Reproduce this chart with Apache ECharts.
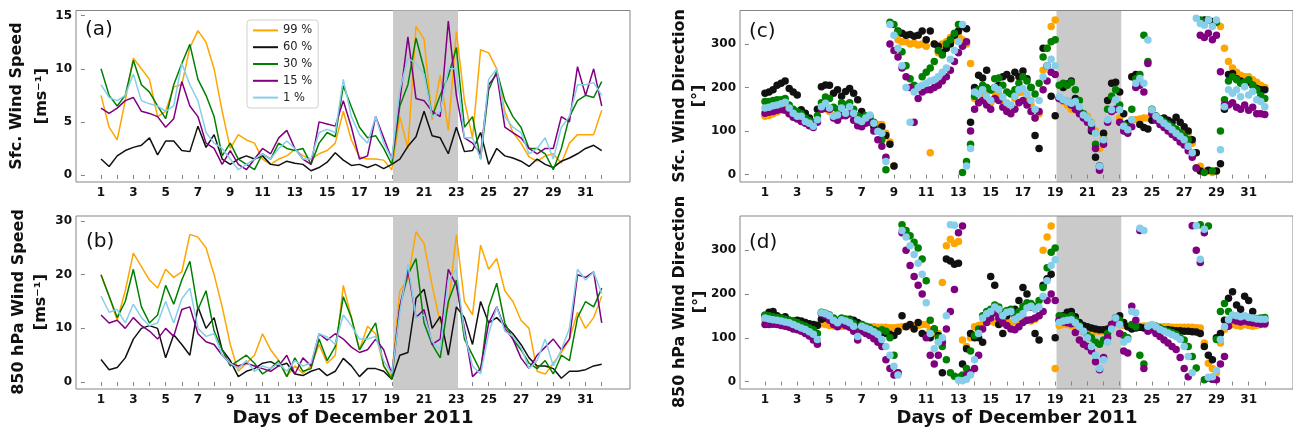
<!DOCTYPE html>
<html>
<head>
<meta charset="utf-8">
<script src="https://cdn.jsdelivr.net/npm/echarts@6/dist/echarts.min.js"></script>
<style>html,body{margin:0;padding:0;background:#fff}#chart{width:1293px;height:431px}</style>
</head>
<body>
<div id="chart"></div>
<script>
// ---------- axes / categories ----------
const daysHalf = [1,1.5,2,2.5,3,3.5,4,4.5,5,5.5,6,6.5,7,7.5,8,8.5,9,9.5,10,10.5,11,11.5,12,12.5,13,13.5,14,14.5,15,15.5,16,16.5,17,17.5,18,18.5,19,19.5,20,20.5,21,21.5,22,22.5,23,23.5,24,24.5,25,25.5,26,26.5,27,27.5,28,28.5,29,29.5,30,30.5,31,31.5,32];
const daysQuarter = [1,1.25,1.5,1.75,2,2.25,2.5,2.75,3,3.25,3.5,3.75,4,4.25,4.5,4.75,5,5.25,5.5,5.75,6,6.25,6.5,6.75,7,7.25,7.5,7.75,8,8.25,8.5,8.75,9,9.25,9.5,9.75,10,10.25,10.5,10.75,11,11.25,11.5,11.75,12,12.25,12.5,12.75,13,13.25,13.5,13.75,14,14.25,14.5,14.75,15,15.25,15.5,15.75,16,16.25,16.5,16.75,17,17.25,17.5,17.75,18,18.25,18.5,18.75,19,19.25,19.5,19.75,20,20.25,20.5,20.75,21,21.25,21.5,21.75,22,22.25,22.5,22.75,23,23.25,23.5,23.75,24,24.25,24.5,24.75,25,25.25,25.5,25.75,26,26.25,26.5,26.75,27,27.25,27.5,27.75,28,28.25,28.5,28.75,29,29.25,29.5,29.75,30,30.25,30.5,30.75,31,31.25,31.5,31.75,32];
const tickDays = [1,2,3,4,5,6,7,8,9,10,11,12,13,14,15,16,17,18,19,20,21,22,23,24,25,26,27,28,29,30,31,32];
const labelDays = [1,3,5,7,9,11,13,15,17,19,21,23,25,27,29,31];
const shadeDays = [19.08, 23.1];
const sfcSpeedTicks = [0,5,10,15];
const hpaSpeedTicks = [0,10,20,30];
const dirTicks = [0,100,200,300];
const seriesNames = ['99 %','60 %','30 %','15 %','1 %'];
const seriesColors = ['#FFA500','#111111','#008000','#800080','#87CEEB'];

// ---------- (a) surface wind speed [m/s], every 0.5 day ----------
const sfcSpeed99 = [7.5,4.5,3.3,7,11,10,9,5.5,6,8.3,8.5,12,13.6,12.5,10,6,2.5,3.8,3.3,3,1.5,1.0,1.5,1.8,2.4,1.8,1.5,2.0,2.3,3.0,6,3.3,1.7,1.5,1.5,1.4,0.5,5.5,2.5,14,12.8,5.2,9.4,4.2,13.5,7,3.5,11.8,11.5,10,6,4,3,1.7,1.3,1.8,2,1.1,3,3.8,3.8,3.8,6.1];
const sfcSpeed60 = [1.5,0.8,1.8,2.3,2.6,2.8,3.5,1.9,3.2,3.2,2.3,2.2,4.6,2.6,3.8,1.5,1.0,1.5,1.8,1.5,1.8,1.0,0.9,1.3,1.1,1.0,0.4,0.7,1.2,2.1,1.4,0.9,1.0,0.7,1.0,0.6,1.0,1.5,2.7,3.6,6.0,3.7,3.5,2.0,4.5,2.2,2.3,4.0,1.0,2.5,1.8,1.6,1.3,0.8,1.5,1.0,0.7,1.3,1.6,2.0,2.5,2.8,2.3];
const sfcSpeed30 = [10,7.5,6.5,7.5,10.8,8.5,7.8,6.5,5.3,8.5,10.5,12.3,9,7.5,5.5,1.8,3,1.5,1.0,0.5,2.0,1.5,3.0,2.5,2.3,2.5,1.0,3.0,4.0,3.6,8.4,6.4,4.5,3.5,3.7,2.5,1.0,6.5,8.5,12.9,10,5.5,7.5,9.3,12,4.5,5.5,1.5,8,9.8,7,5.5,4.5,2.5,2.5,2.0,0.5,2.5,5.5,7,7.5,7.3,8.8];
const sfcSpeed15 = [6.3,5.8,6.3,7.0,7.3,6.0,5.8,5.5,4.5,5.3,8.8,6.5,5.5,3,2.5,1.0,2.3,1.0,0.5,1.5,2.5,2.0,3.5,4.2,2.5,1.5,1.0,5.0,4.8,4.6,7.0,4.5,1.5,1.8,5.5,3.5,1.5,7,13,7.2,7.0,6,5.5,14.5,7.5,3.5,3,2,8.5,9.5,4.5,4,3.5,2.5,2,2.5,2.5,5.5,5,10.2,7.5,10,6.5];
const sfcSpeed1 = [8.5,7.3,7.0,7.5,9.5,7,6.7,6.5,6.0,6.5,10.5,8.5,7.0,4,3,2.5,1.5,0.5,1.0,1.5,2.0,1.5,2.5,3.2,2.5,1.5,1.5,4.0,4.3,4.0,9,5.5,3.8,3.0,5.5,3.0,1.5,8,11,10.5,9.5,5.5,6.0,10,10,3.5,3.5,1.5,9.0,10,5.5,4.5,4.0,2.0,2.5,3.5,1.5,4.5,5.5,8.5,8.5,8.7,7.5];

// ---------- (b) 850 hPa wind speed [m/s], every 0.5 day ----------
const hpaSpeed99 = [20,16,11.5,17,24,21.5,19,17.5,21,19.5,20.5,27.5,27,25,20,14,7,2,3.5,5,9,6,4,1,3,1.6,3,7,3.5,5,18,12,6,10.4,9,3,1,17,19,28,25.8,18,11,14,27.4,15,12.5,25.5,21,23,17,15,11.5,10,2,1.5,3.5,5.5,8,13,10,12,16];
const hpaSpeed60 = [4.2,2.3,2.7,4.5,8,10,10.5,10,4.5,8.8,7,5,14,10,12,6,4,1,2,2.5,3.5,3.8,3,3.5,1.5,1.2,2.0,2.5,1.2,2.0,4.4,3,1,2.5,2.5,2,0.5,5,5.5,15.6,17.3,10,12.2,5,14,12,7,15,11,12,10.5,9,7,4.5,3,3,2.5,0.7,2,2,2.3,3,3.3];
const hpaSpeed30 = [20,16,12,15,21,14,11,12.5,18,14.5,19,22.5,13.5,17,9.5,6,3,4,5,3.5,1.5,2.5,4,1,4.5,2,2.5,8,4,6.6,15.9,12,6,8.5,11,3,0.5,14,20,23,11,7,4.5,15,19,8,5,2,14,18.4,11,8,6,3.5,2.5,4,1.5,5,4,12,15,14,17.5];
const hpaSpeed15 = [12.5,11,11.5,10,12,10.5,9.5,8,10,8.5,13.5,14,9,7.5,7,5,3.5,3,3.5,3,2.5,2,3,5,1.5,4.5,3,9,7.8,9,8,6.5,5.5,6,8,6,1.5,14,21,12,13.5,7,8,21,18,10,1,2.5,11,14,10,8,4.5,2.5,5,6.5,8,6,8,20,19.5,20.5,11];
const hpaSpeed1 = [16,13,13.5,11,14.5,12,10.5,11,15,11,15.5,17.5,10,8.5,9,5,3.5,2.5,4,2,3,2.5,3.5,2,4,3,3.5,9,8.4,7,12.5,10.5,8,8,8.5,4,1.5,13,22,12,12.5,7.5,6,19,21,9,3,1.5,9,14,9.5,8.5,6.5,2.5,4,8,3,6,10,21,19,20.5,16.5];

// ---------- (c) surface wind direction [deg], every 0.25 day ----------
const sfcDir99 = [134,136,140,144,148,150,140,135,130,126,122,116,112,125,150,152,145,135,130,138,140,142,135,128,125,125,125,118,115,115,95,75,20,310,305,305,300,302,298,300,295,50,300,280,300,305,315,310,320,310,300,255,175,165,180,195,165,190,185,170,160,158,175,188,190,178,160,130,140,240,290,340,355,175,168,160,150,148,142,138,134,120,100,60,90,125,145,150,130,112,110,126,126,128,130,130,128,126,122,118,112,108,103,96,95,94,72,50,19,8,8,5,8,340,290,260,245,235,228,225,225,218,212,205,200];
const sfcDir60 = [187,190,195,205,210,215,198,190,183,149,141,130,120,150,202,206,205,187,195,180,191,198,187,172,145,130,130,110,100,110,90,70,20,330,325,320,322,318,320,330,310,330,300,295,280,290,300,320,330,340,335,120,200,228,222,240,195,200,205,225,230,220,235,225,238,220,200,90,60,290,250,180,135,175,200,208,215,175,145,135,126,100,40,20,95,170,210,212,190,140,118,225,230,115,108,105,125,128,125,130,125,120,132,120,110,100,80,50,8,355,10,352,8,25,150,230,232,220,215,210,212,205,198,195,195];
const sfcDir30 = [168,168,170,172,172,175,160,150,145,140,130,124,118,135,165,178,175,155,150,165,160,165,150,135,130,135,135,120,100,80,11,350,345,328,282,250,220,205,200,225,235,245,260,285,275,300,310,325,345,5,30,70,180,195,205,200,195,220,222,205,190,185,195,210,225,215,200,185,210,270,290,305,310,205,210,205,212,195,170,140,128,112,70,15,80,150,180,195,160,115,110,150,220,230,320,260,150,135,128,122,116,110,105,97,88,80,50,15,355,5,355,8,350,100,172,215,225,218,210,212,218,205,195,182,175];
const sfcDir15 = [141,143,145,148,150,148,140,132,128,122,118,112,108,120,150,152,150,130,125,135,135,140,125,112,110,118,120,100,80,65,40,300,285,270,245,225,200,120,175,190,195,195,200,205,215,225,240,260,280,295,305,100,150,165,170,160,150,175,170,155,145,140,150,165,170,160,145,130,145,195,215,235,230,175,170,168,160,150,140,130,120,105,60,10,70,120,145,150,120,100,95,110,200,205,190,255,140,125,115,108,100,92,85,75,68,55,40,15,320,315,325,310,320,236,160,160,165,155,150,160,148,155,140,140,138];
const sfcDir1 = [153,155,158,160,163,166,153,141,134,134,122,118,111,126,156,164,153,134,137,153,141,156,141,126,122,130,137,118,99,95,30,345,320,290,250,200,120,190,200,205,210,215,218,225,235,245,265,285,305,345,20,60,190,185,195,180,170,200,195,178,165,160,180,195,198,185,170,150,170,225,250,265,250,179,172,168,164,168,156,137,130,118,95,19,80,126,149,172,149,111,103,126,210,221,210,309,149,134,126,118,111,103,95,88,80,65,50,359,347,343,355,340,355,57,156,195,187,195,179,202,183,191,172,168,156];

// ---------- (d) 850 hPa wind direction [deg], every 0.25 day ----------
const hpaDir99 = [140,138,136,135,133,132,131,130,130,129,128,128,127,130,132,130,128,127,127,126,126,125,125,125,125,125,125,125,124,124,124,123,123,124,125,126,127,128,128,130,130,118,110,110,226,310,325,315,320,95,80,100,125,128,132,136,138,135,140,142,138,135,136,140,142,140,138,142,150,300,330,355,30,128,130,130,128,126,122,120,118,116,115,115,115,118,125,135,130,128,126,125,126,126,127,127,126,126,125,125,125,124,124,124,124,124,124,123,122,88,42,30,20,88,119,128,130,128,126,130,128,126,128,130,130];
const hpaDir60 = [150,158,160,150,145,148,140,138,140,138,135,132,130,128,142,145,145,138,135,138,140,142,140,135,130,125,122,118,115,112,110,108,105,115,150,125,130,120,135,110,105,100,120,105,20,280,275,268,270,40,75,110,100,100,90,150,240,220,130,110,150,160,165,185,215,200,170,110,95,220,235,245,100,140,150,158,160,148,135,128,125,122,120,118,118,120,130,145,150,135,125,120,122,124,122,120,122,120,120,118,118,117,116,116,115,115,114,113,110,80,60,50,100,110,140,190,205,175,165,195,185,160,140,132,135];
const hpaDir30 = [152,150,148,146,145,142,140,138,135,130,127,122,118,110,158,156,152,145,140,145,143,140,133,115,130,126,122,118,112,118,115,100,60,20,358,345,333,318,305,280,230,140,120,100,80,50,20,12,10,15,30,70,105,120,150,160,165,175,170,158,162,165,150,160,172,180,178,172,185,215,260,295,305,150,148,146,150,140,128,115,105,100,90,85,95,110,130,145,140,105,100,130,125,60,40,125,128,126,122,118,115,112,108,100,95,80,57,31,358,4,355,5,96,160,178,160,150,148,147,148,146,145,144,145,146];
const hpaDir15 = [130,130,131,130,128,126,124,120,118,115,110,104,95,85,155,150,140,130,125,132,128,124,115,95,115,110,105,98,90,80,50,30,15,20,340,300,265,240,220,200,100,60,40,60,90,120,160,210,340,355,15,20,30,60,120,135,145,157,145,134,128,120,118,125,135,140,141,145,150,160,185,200,185,140,136,134,132,112,95,85,80,70,45,27,55,100,130,141,110,70,65,172,140,345,30,115,118,110,103,95,88,80,73,55,30,11,356,300,272,340,8,5,4,40,57,126,141,138,136,138,136,134,133,132,132];
const hpaDir1 = [145,143,141,140,138,136,134,130,126,122,119,114,108,96,157,155,150,140,134,141,138,134,126,103,126,122,119,114,108,96,80,60,35,15,345,330,310,290,270,245,180,110,75,90,100,150,358,357,3,2,5,15,50,110,145,155,160,170,165,150,158,160,142,148,155,168,172,165,170,195,230,265,278,135,138,140,141,134,125,115,100,80,60,30,50,90,120,145,130,90,96,160,157,350,345,126,130,125,119,115,111,107,103,96,80,57,20,356,279,348,10,11,25,96,125,141,152,150,148,150,146,145,143,142,142];

// ---------- build chart ----------
const FONT = '"DejaVu Sans", sans-serif';
const FRAME = '#858585';
const sfcSpeedSets = [sfcSpeed99, sfcSpeed60, sfcSpeed30, sfcSpeed15, sfcSpeed1];
const hpaSpeedSets = [hpaSpeed99, hpaSpeed60, hpaSpeed30, hpaSpeed15, hpaSpeed1];
const sfcDirSets = [sfcDir99, sfcDir60, sfcDir30, sfcDir15, sfcDir1];
const hpaDirSets = [hpaDir99, hpaDir60, hpaDir30, hpaDir15, hpaDir1];

const grids = [
  {left: 76, top: 10.5, width: 554, height: 171.5},
  {left: 76, top: 216, width: 554, height: 173},
  {left: 740, top: 10.5, width: 554, height: 171.5},
  {left: 740, top: 216, width: 554, height: 173}
].map(g => Object.assign(g, {show: true, borderColor: FRAME, borderWidth: 1, backgroundColor: 'transparent', containLabel: false}));

const tickLabelStyle = {fontFamily: FONT, fontSize: 12, fontWeight: 'bold', color: '#111'};

const xAxes = [0,1,2,3].map(i => ({
  type: 'value', gridIndex: i, min: -0.55, max: 33.75,
  axisLine: {show: false},
  axisTick: {show: true, customValues: tickDays, length: 4, lineStyle: {color: FRAME}},
  axisLabel: Object.assign({show: true, customValues: labelDays, margin: 5}, tickLabelStyle),
  splitLine: {show: false}
}));

const yRanges = [[-0.66, 15.49, sfcSpeedTicks], [-1.3, 30.93, hpaSpeedTicks], [-17, 377, dirTicks], [-17, 378, dirTicks]];
const yAxes = yRanges.map((r, i) => ({
  type: 'value', gridIndex: i, min: r[0], max: r[1],
  axisLine: {show: false},
  axisTick: {show: true, customValues: r[2], length: 4, lineStyle: {color: FRAME}},
  axisLabel: Object.assign({show: true, customValues: r[2], margin: 4}, tickLabelStyle),
  splitLine: {show: false}
}));

const series = [];
function shadeSeries(i, z, color) {
  return {
    type: 'line', xAxisIndex: i, yAxisIndex: i, data: [], z: z, silent: true,
    markArea: {silent: true, itemStyle: {color: color}, data: [[{xAxis: shadeDays[0]}, {xAxis: shadeDays[1]}]]}
  };
}
// line panels: shade below lines
[[0, sfcSpeedSets], [1, hpaSpeedSets]].forEach(([gi, sets]) => {
  series.push(shadeSeries(gi, 1, 'rgb(202,202,202)'));
  sets.forEach((vals, k) => {
    series.push({
      name: seriesNames[k], type: 'line', xAxisIndex: gi, yAxisIndex: gi, z: 2 + k * 0.01,
      data: daysHalf.map((d, j) => [d, vals[j]]),
      showSymbol: false, symbol: 'none',
      lineStyle: {width: 1.5, color: seriesColors[k]}, itemStyle: {color: seriesColors[k]}
    });
  });
});
// scatter panels: semi-transparent shade drawn over the dots
[[2, sfcDirSets], [3, hpaDirSets]].forEach(([gi, sets]) => {
  sets.forEach((vals, k) => {
    series.push({
      name: seriesNames[k], type: 'scatter', xAxisIndex: gi, yAxisIndex: gi, z: 2 + k * 0.01,
      data: daysQuarter.map((d, j) => [d, vals[j]]),
      symbol: 'circle', symbolSize: 7.5,
      itemStyle: {color: seriesColors[k], opacity: 1}
    });
  });
  series.push(shadeSeries(gi, 5, 'rgba(128,128,128,0.42)'));
});

function txt(x, y, text, font, rot, align) {
  return {type: 'text', x: x, y: y, rotation: rot || 0, silent: true,
    style: {text: text, font: font, fill: '#111', align: align || 'center', verticalAlign: 'middle',
            textAlign: align || 'center', textVerticalAlign: 'middle'}};
}
const R = Math.PI / 2;
const yNameFont = 'bold 16px ' + FONT;
const panelFont = '20px ' + FONT;
const titleFont = 'bold 18px ' + FONT;
const graphics = [
  txt(17, 96, 'Sfc. Wind Speed', yNameFont, R), txt(42, 96, '[ms⁻¹]', yNameFont, R),
  txt(18.5, 302, '850 hPa Wind Speed', yNameFont, R), txt(40.5, 302, '[ms⁻¹]', yNameFont, R),
  txt(680, 96, 'Sfc. Wind Direction', yNameFont, R), txt(699, 96, '[°]', yNameFont, R),
  txt(680, 302, '850 hPa Wind Direction', yNameFont, R), txt(700, 302, '[°]', yNameFont, R),
  txt(85, 29.5, '(a)', panelFont, 0, 'left'), txt(86, 242, '(b)', panelFont, 0, 'left'),
  txt(749, 32, '(c)', panelFont, 0, 'left'), txt(749, 242.5, '(d)', panelFont, 0, 'left'),
  txt(353, 418, 'Days of December 2011', titleFont), txt(1017, 418, 'Days of December 2011', titleFont)
];

const chart = echarts.init(document.getElementById('chart'), null, {renderer: 'canvas'});
chart.setOption({
  animation: false,
  backgroundColor: '#ffffff',
  textStyle: {fontFamily: FONT},
  grid: grids, xAxis: xAxes, yAxis: yAxes,
  legend: {
    data: seriesNames, left: 247, top: 20, orient: 'vertical',
    icon: 'rect', itemWidth: 25, itemHeight: 2, itemGap: 2.8,
    padding: [3.4, 6, 3.4, 6],
    borderColor: '#d0d0d0', borderWidth: 1, borderRadius: 3, backgroundColor: 'rgba(255,255,255,0.85)',
    textStyle: {fontFamily: FONT, fontSize: 11.5, color: '#222', lineHeight: 14},
    selectedMode: false
  },
  graphic: graphics,
  series: series
});
</script>
</body>
</html>
